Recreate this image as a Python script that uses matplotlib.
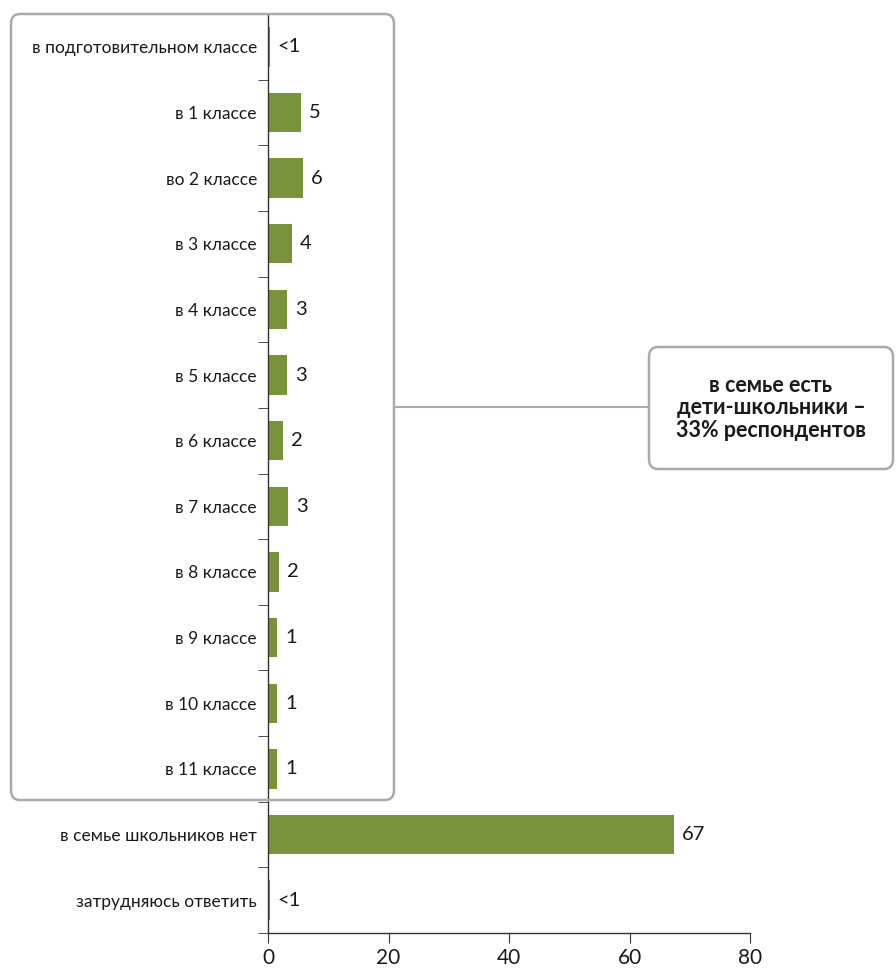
import numpy as np
import matplotlib.pyplot as plt
from matplotlib.patches import FancyBboxPatch
from matplotlib.lines import Line2D

plt.rcParams['font.family'] = ['Lato', 'DejaVu Sans']

# Данные
categories = ['в подготовительном классе', 'в 1 классе', 'во 2 классе', 'в 3 классе',
              'в 4 классе', 'в 5 классе', 'в 6 классе', 'в 7 классе', 'в 8 классе',
              'в 9 классе', 'в 10 классе', 'в 11 классе', 'в семье школьников нет',
              'затрудняюсь ответить']
values = [0.3, 5.5, 5.8, 4.0, 3.2, 3.2, 2.5, 3.3, 1.8, 1.5, 1.5, 1.5, 67.4, 0.3]
value_labels = ['<1', '5', '6', '4', '3', '3', '2', '3', '2', '1', '1', '1', '67', '<1']
x_ticks = [0, 20, 40, 60, 80]
box_text = 'в семье есть\nдети-школьники –\n33% респондентов'

W, H = 896, 973
fig = plt.figure(figsize=(W / 100, H / 100), dpi=100)
ax = fig.add_axes([268 / W, 1 - 933 / H, (750 - 268) / W, (933 - 14) / H])

y = np.arange(len(categories))
ax.barh(y, values, height=0.6, color='#78933a')
for yi, v, t in zip(y, values, value_labels):
    ax.text(v + 1.3, yi, t, va='center', ha='left', fontsize=14.5, color='#1a1a1a')

ax.set_ylim(len(categories) - 0.5, -0.5)
ax.set_xlim(0, 80)
ax.set_xticks(x_ticks)
ax.set_xticklabels([str(t) for t in x_ticks], fontsize=15, color='#1a1a1a')
ax.set_yticks(y)
ax.set_yticklabels(categories, fontsize=12.5, color='#1a1a1a')
ax.tick_params(axis='y', length=0, pad=8)
# засечки между категориями
ax.set_yticks(np.arange(-0.5, len(categories), 1), minor=True)
ax.tick_params(axis='y', which='minor', length=7, color='#333333')
ax.tick_params(axis='x', length=7, color='#333333', pad=4)

for s in ['top', 'right']:
    ax.spines[s].set_visible(False)
for s in ['left', 'bottom']:
    ax.spines[s].set_color('#333333')
    ax.spines[s].set_linewidth(1)

# Рамки
box1 = FancyBboxPatch((11 / W, 1 - 800 / H), (394 - 11) / W, (800 - 14) / H,
                      boxstyle='round,pad=0,rounding_size=0.01', transform=fig.transFigure,
                      facecolor='none', edgecolor='#aaaaaa', linewidth=1.8, zorder=5)
fig.patches.append(box1)
box2 = FancyBboxPatch((649 / W, 1 - 469 / H), (893 - 649) / W, (469 - 347) / H,
                      boxstyle='round,pad=0,rounding_size=0.01', transform=fig.transFigure,
                      facecolor='white', edgecolor='#aaaaaa', linewidth=1.8, zorder=5)
fig.patches.append(box2)
fig.lines.append(Line2D([394 / W, 649 / W], [1 - 407 / H, 1 - 407 / H],
                        transform=fig.transFigure, color='#aaaaaa', linewidth=1.5))
fig.text(771 / W, 1 - 408 / H, box_text, ha='center', va='center', fontsize=15.5,
         fontweight='bold', color='#1a1a1a', linespacing=1.1, zorder=6)

fig.savefig('out.png', dpi=100)
